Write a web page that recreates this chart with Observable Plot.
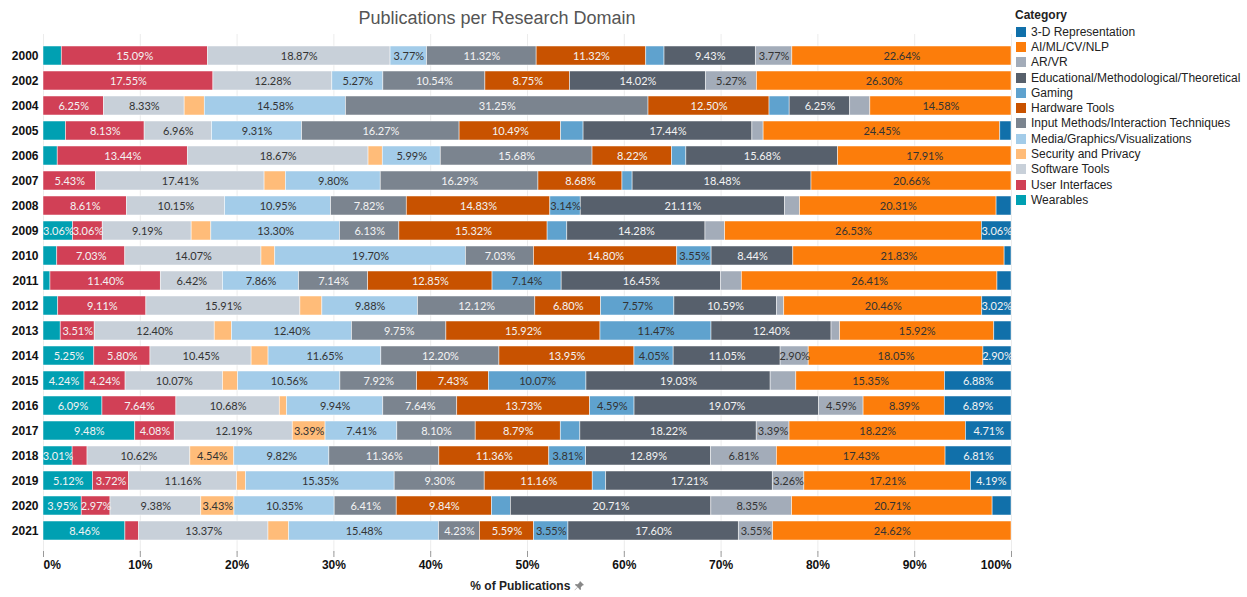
<!DOCTYPE html>
<html>
<head>
<meta charset="utf-8">
<script src="https://cdn.jsdelivr.net/npm/d3@7"></script>
<script src="https://cdn.jsdelivr.net/npm/@observablehq/plot@0.6"></script>
<style>
  html, body { margin: 0; padding: 0; background: #fff; }
  #wrap { position: relative; width: 1247px; height: 597px; font-family: "Liberation Sans", Arial, sans-serif; overflow: hidden; }
  #title { position: absolute; left: 0; width: 994px; top: 8px; text-align: center; font-size: 18px; color: #555; z-index: 2; }
  #chart { position: absolute; left: 0; top: 0; z-index: 1; }
  #xlabel { position: absolute; left: 427px; width: 200px; top: 579px; text-align: center; font-size: 12px; font-weight: bold; color: #222; z-index: 2; }
  #legend { position: absolute; left: 1015px; top: 8px; font-size: 12px; color: #222; z-index: 2; }
  #legend .lt { font-weight: bold; margin-bottom: 1px; height: 15px; line-height: 15px; }
  #legend .row { display: flex; align-items: center; height: 15.3px; }
  #legend .sw { width: 10px; height: 10px; margin: 0 5px 0 1px; }
</style>
</head>
<body>
<div id="wrap">
  <div id="title">Publications per Research Domain</div>
  <div id="chart"></div>
  <div id="xlabel">% of Publications <svg width="10" height="10" viewBox="0 0 10 10" style="vertical-align:-1px"><path d="M6 0 L10 4 L8.5 4.6 L6.8 6.3 L7 8.5 L6 9 L3.8 6.2 L0.8 9.2 L0.5 8.9 L3.5 5.9 L1 4 L1.5 3 L3.7 3.2 L5.4 1.5 Z" fill="#888"/></svg></div>
  <div id="legend"></div>
</div>
<script>
const years = ["2000","2002","2004","2005","2006","2007","2008","2009","2010","2011","2012","2013","2014","2015","2016","2017","2018","2019","2020","2021"];

// Stack order (left to right)
const stackOrder = ["Wearables","User Interfaces","Software Tools","Security and Privacy","Media/Graphics/Visualizations","Input Methods/Interaction Techniques","Hardware Tools","Gaming","Educational/Methodological/Theoretical","AR/VR","AI/ML/CV/NLP","3-D Representation"];
// Legend order
const legendOrder = ["3-D Representation","AI/ML/CV/NLP","AR/VR","Educational/Methodological/Theoretical","Gaming","Hardware Tools","Input Methods/Interaction Techniques","Media/Graphics/Visualizations","Security and Privacy","Software Tools","User Interfaces","Wearables"];
const legendColors = ["#1170aa","#fc7d0b","#a3acb9","#57606c","#5fa2ce","#c85200","#7b848f","#a3cce9","#ffbc79","#c8d0d9","#d14056","#00a0b2"];
const lightText = ["Wearables","User Interfaces","Input Methods/Interaction Techniques","Hardware Tools","Educational/Methodological/Theoretical","3-D Representation"];

// Values (% of publications) per category, in year order
const wearables   = [1.89,0,0,2.32,1.47,0,0,3.06,1.42,0.72,1.52,1.78,5.25,4.24,6.09,9.48,3.01,5.12,3.95,8.46];
const userIf      = [15.09,17.55,6.25,8.13,13.44,5.43,8.61,3.06,7.03,11.40,9.11,3.51,5.80,4.24,7.64,4.08,1.54,3.72,2.97,1.41];
const software    = [18.87,12.28,8.33,6.96,18.67,17.41,10.15,9.19,14.07,6.42,15.91,12.40,10.45,10.07,10.68,12.19,10.62,11.16,9.38,13.37];
const security    = [0,0,2.08,0,1.47,2.20,0,2.03,1.42,0,2.27,1.78,1.75,1.56,0.75,3.39,4.54,0.93,3.43,2.14];
const media       = [3.77,5.27,14.58,9.31,5.99,9.80,10.95,13.30,19.70,7.86,9.88,12.40,11.65,10.56,9.94,7.41,9.82,15.35,10.35,15.48];
const inputMeth   = [11.32,10.54,31.25,16.27,15.68,16.29,7.82,6.13,7.03,7.14,12.12,9.75,12.20,7.92,7.64,8.10,11.36,9.30,6.41,4.23];
const hardware    = [11.32,8.75,12.50,10.49,8.22,8.68,14.83,15.32,14.80,12.85,6.80,15.92,13.95,7.43,13.73,8.79,11.36,11.16,9.84,5.59];
const gaming      = [1.89,0,2.08,2.32,1.47,1.05,3.14,2.03,3.55,7.14,7.57,11.47,4.05,10.07,4.59,2.02,3.81,1.39,1.95,3.55];
const educational = [9.43,14.02,6.25,17.44,15.68,18.48,21.11,14.28,8.44,16.45,10.59,12.40,11.05,19.03,19.07,18.22,12.89,17.21,20.71,17.60];
const arvr        = [3.77,5.27,2.08,1.16,0,0,1.54,2.03,0,2.16,0.76,0.89,2.90,2.65,4.59,3.39,6.81,3.26,8.35,3.55];
const aiml        = [22.64,26.30,14.58,24.45,17.91,20.66,20.31,26.53,21.83,26.41,20.46,15.92,18.05,15.35,8.39,18.22,17.43,17.21,20.71,24.62];
const threeD      = [0,0,0,1.16,0,0,1.54,3.06,0.71,1.45,3.02,1.78,2.90,6.88,6.89,4.71,6.81,4.19,1.95,0];

const series = [wearables,userIf,software,security,media,inputMeth,hardware,gaming,educational,arvr,aiml,threeD];

const data = [];
stackOrder.forEach((cat, ci) => {
  years.forEach((y, yi) => {
    data.push({year: y, cat, value: series[ci][yi]});
  });
});

const xTicks = [0,0.1,0.2,0.3,0.4,0.5,0.6,0.7,0.8,0.9,1];
const pct = d => Math.round(d * 100) + "%";

const stackOpts = {x: "value", y: "year", z: "cat", offset: "normalize"};
const labelOpts = (light) => Plot.stackX({
  ...stackOpts,
  text: d => (d.value >= 2.85 && lightText.includes(d.cat) === light) ? d.value.toFixed(2) + "%" : null,
  fill: light ? "#f3f3f3" : "#333",
  fontSize: 11,
  fontFamily: "Lato, 'Liberation Sans', sans-serif"
});

const chart = Plot.plot({
  width: 1015,
  height: 597,
  marginLeft: 43,
  marginRight: 4,
  marginTop: 34,
  marginBottom: 44,
  style: {fontFamily: "'Liberation Sans', Arial, sans-serif", background: "transparent"},
  x: {domain: [0, 1], axis: null},
  y: {domain: years, axis: null, paddingInner: 0.23, paddingOuter: 0.115},
  color: {domain: legendOrder, range: legendColors},
  marks: [
    Plot.ruleX(xTicks, {x: d => d, stroke: "#ececec", strokeWidth: 1}),
    Plot.barX(data, Plot.stackX({...stackOpts, fill: "cat", stroke: "white", strokeWidth: 0.7, strokeOpacity: 0.7})),
    Plot.text(data, labelOpts(true)),
    Plot.text(data, labelOpts(false)),
    Plot.ruleX(xTicks, {x: d => d, stroke: "#999", insetTop: 517, insetBottom: -4}),
    Plot.text([0], {x: d => d, text: pct, frameAnchor: "bottom", dy: 15, textAnchor: "start", fontWeight: "bold", fontSize: 12, fill: "#111"}),
    Plot.text(xTicks.slice(1, -1), {x: d => d, text: pct, frameAnchor: "bottom", dy: 15, fontWeight: "bold", fontSize: 12, fill: "#111"}),
    Plot.text([1], {x: d => d, text: pct, frameAnchor: "bottom", dy: 15, textAnchor: "end", fontWeight: "bold", fontSize: 12, fill: "#111"}),
    Plot.text(years, {y: d => d, text: d => d, frameAnchor: "left", textAnchor: "end", dx: -5, fontWeight: "bold", fontSize: 12, fill: "#111"})
  ]
});
document.getElementById("chart").appendChild(chart);

// Legend
const lg = document.getElementById("legend");
const t = document.createElement("div");
t.className = "lt";
t.textContent = "Category";
lg.appendChild(t);
legendOrder.forEach((c, i) => {
  const r = document.createElement("div");
  r.className = "row";
  const s = document.createElement("div");
  s.className = "sw";
  s.style.background = legendColors[i];
  const l = document.createElement("span");
  l.textContent = c;
  r.appendChild(s);
  r.appendChild(l);
  lg.appendChild(r);
});
</script>
</body>
</html>
